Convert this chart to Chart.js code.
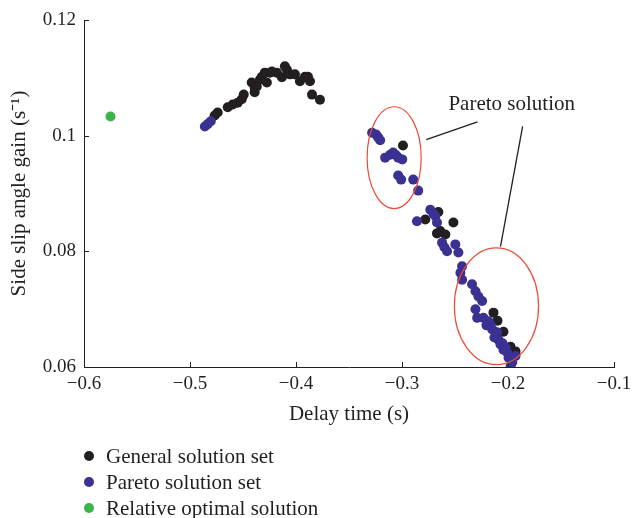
<!DOCTYPE html>
<html>
<head>
<meta charset="utf-8">
<script src="https://cdn.jsdelivr.net/npm/chart.js@4/dist/chart.umd.min.js"></script>
<style>
  html, body { margin: 0; padding: 0; background: #fff; }
  #wrap { position: relative; width: 632px; height: 518px; }
  #legend { position: absolute; left: 80px; top: 443px; font: 21px "Liberation Serif", serif; color: #231f20; }
  #legend div { height: 26px; line-height: 26px; display: flex; align-items: center; }
  #legend span.dot { width: 10px; height: 10px; border-radius: 50%; display: inline-block; margin: 0 12px 0 4px; }
</style>
</head>
<body>
<div id="wrap">
  <canvas id="paretoChart" width="632" height="518"></canvas>
  <div id="legend"></div>
</div>
<script>
// Delay time (s) / side slip angle gain (1/s)
const generalX = [-0.4767, -0.4739, -0.4644, -0.4597, -0.4550, -0.4512, -0.4493, -0.4418, -0.4390, -0.4390,
  -0.4370, -0.4340, -0.4322, -0.4294, -0.4275, -0.4246, -0.4227, -0.4180, -0.4133, -0.4105,
  -0.4086, -0.4058, -0.4010, -0.3963, -0.3916, -0.3887, -0.3868, -0.3849, -0.3774,
  -0.2991, -0.2657, -0.2780, -0.2515, -0.2639, -0.2670, -0.2591,
  -0.2137, -0.2099, -0.2043, -0.1976, -0.1929];
const generalY = [0.1035, 0.1040, 0.1049, 0.1054, 0.1057, 0.1063, 0.1071, 0.1092, 0.1083, 0.1075,
  0.1085, 0.1097, 0.1102, 0.1109, 0.1092, 0.1109, 0.1111, 0.1109, 0.1101, 0.1120,
  0.1114, 0.1106, 0.1106, 0.1094, 0.1102, 0.1102, 0.1094, 0.1071, 0.1062,
  0.0983, 0.0868, 0.0855, 0.0850, 0.0835, 0.0831, 0.0829,
  0.0694, 0.0680, 0.0661, 0.0635, 0.0627];

const paretoX = [-0.4860, -0.4833, -0.4804,
  -0.3282, -0.3244, -0.3225, -0.3206, -0.3159, -0.3112, -0.3083, -0.3055, -0.3036, -0.2998,
  -0.3036, -0.3008, -0.2894, -0.2847,
  -0.2733, -0.2704, -0.2859, -0.2686, -0.2670, -0.2622, -0.2600, -0.2575, -0.2497, -0.2468,
  -0.2433, -0.2449, -0.2433, -0.2339, -0.2307, -0.2279, -0.2244, -0.2307, -0.2291, -0.2232,
  -0.2184, -0.2165, -0.2149, -0.2102, -0.2090, -0.2071, -0.2043, -0.2008, -0.1995, -0.1960,
  -0.1929, -0.1976, -0.2203, -0.2128, -0.2052, -0.2024];
const paretoY = [0.1016, 0.1020, 0.1025,
  0.1005, 0.1002, 0.0997, 0.0992, 0.0962, 0.0967, 0.0971, 0.0966, 0.0962, 0.0959,
  0.0931, 0.0924, 0.0924, 0.0905,
  0.0872, 0.0865, 0.0852, 0.0861, 0.0850, 0.0815, 0.0807, 0.0800, 0.0812, 0.0798,
  0.0774, 0.0763, 0.0751, 0.0743, 0.0731, 0.0722, 0.0714, 0.0700, 0.0685, 0.0685,
  0.0679, 0.0673, 0.0665, 0.0660, 0.0647, 0.0639, 0.0630, 0.0625, 0.0616, 0.0608,
  0.0619, 0.0601, 0.0672, 0.0651, 0.0641, 0.0634];

const optimalX = [-0.575];
const optimalY = [0.1033];

const xTicks = [-0.6, -0.5, -0.4, -0.3, -0.2, -0.1];
const xTickLabels = ['\u22120.6', '\u22120.5', '\u22120.4', '\u22120.3', '\u22120.2', '\u22120.1'];
const yTicks = [0.06, 0.08, 0.1, 0.12];
const yTickLabels = ['0.06', '0.08', '0.1', '0.12'];

const seriesNames = ['General solution set', 'Pareto solution set', 'Relative optimal solution'];

// ellipses around the Pareto groups (centre and radii in data units)
const ellipses = [
  { cx: -0.3074, cy: 0.0962, rx: 0.0255, ry: 0.0088 },
  { cx: -0.2109, cy: 0.0705, rx: 0.0397, ry: 0.0101 }
];
const callout = { text: 'Pareto solution', x: -0.1965, y: 0.1045 };
const leaders = [
  [[-0.2771, 0.0993], [-0.2288, 0.1024]],
  [[-0.1862, 0.1016], [-0.2071, 0.0808]]
];

const ink = '#231f20';
const serif = '"Liberation Serif", "Times New Roman", serif';

function toPoints(xs, ys) {
  return xs.map((x, i) => ({ x: x, y: ys[i] }));
}

// small tick marks pointing into the plot
const innerTicks = {
  id: 'innerTicks',
  afterDatasetsDraw(chart) {
    const { ctx, chartArea: a, scales } = chart;
    ctx.save();
    ctx.strokeStyle = ink;
    ctx.lineWidth = 1;
    ctx.beginPath();
    xTicks.forEach(v => {
      const px = Math.round(scales.x.getPixelForValue(v)) + 0.5;
      ctx.moveTo(px, a.bottom);
      ctx.lineTo(px, a.bottom - 5);
    });
    yTicks.forEach(v => {
      const py = Math.round(scales.y.getPixelForValue(v)) + 0.5;
      ctx.moveTo(a.left, py);
      ctx.lineTo(a.left + 5, py);
    });
    ctx.stroke();
    ctx.restore();
  }
};

// red ellipses, leader lines and the callout text
const paretoNotes = {
  id: 'paretoNotes',
  afterDatasetsDraw(chart) {
    const { ctx, scales } = chart;
    const sx = scales.x, sy = scales.y;
    ctx.save();
    ctx.strokeStyle = '#ee4a36';
    ctx.lineWidth = 1.2;
    ellipses.forEach(e => {
      const cx = sx.getPixelForValue(e.cx);
      const cy = sy.getPixelForValue(e.cy);
      const rx = Math.abs(sx.getPixelForValue(e.cx + e.rx) - cx);
      const ry = Math.abs(sy.getPixelForValue(e.cy + e.ry) - cy);
      ctx.beginPath();
      ctx.ellipse(cx, cy, rx, ry, 0, 0, Math.PI * 2);
      ctx.stroke();
    });
    ctx.strokeStyle = ink;
    ctx.lineWidth = 1.3;
    leaders.forEach(([p, q]) => {
      ctx.beginPath();
      ctx.moveTo(sx.getPixelForValue(p[0]), sy.getPixelForValue(p[1]));
      ctx.lineTo(sx.getPixelForValue(q[0]), sy.getPixelForValue(q[1]));
      ctx.stroke();
    });
    ctx.fillStyle = ink;
    ctx.font = '21px ' + serif;
    ctx.textAlign = 'center';
    ctx.textBaseline = 'alphabetic';
    ctx.fillText(callout.text, sx.getPixelForValue(callout.x), sy.getPixelForValue(callout.y));
    ctx.restore();
  }
};

const chart = new Chart(document.getElementById('paretoChart'), {
  type: 'scatter',
  data: {
    datasets: [
      {
        label: seriesNames[0],
        data: toPoints(generalX, generalY),
        backgroundColor: ink,
        borderColor: ink,
        pointRadius: 5,
        borderWidth: 0,
        order: 3
      },
      {
        label: seriesNames[1],
        data: toPoints(paretoX, paretoY),
        backgroundColor: '#3a3192',
        borderColor: '#3a3192',
        pointRadius: 5,
        borderWidth: 0,
        order: 2
      },
      {
        label: seriesNames[2],
        data: toPoints(optimalX, optimalY),
        backgroundColor: '#3bb54a',
        borderColor: '#3bb54a',
        pointRadius: 5,
        borderWidth: 0,
        order: 1
      }
    ]
  },
  options: {
    responsive: false,
    animation: false,
    layout: { padding: { left: 0, top: 20, right: 18, bottom: 91 } },
    plugins: {
      legend: { display: false },
      tooltip: { enabled: false }
    },
    scales: {
      x: {
        type: 'linear',
        min: -0.6,
        max: -0.1,
        afterBuildTicks: s => { s.ticks = xTicks.map(v => ({ value: v })); },
        afterFit: s => { s.height = 60; s.paddingLeft = 0; s.paddingRight = 0; },
        grid: { display: true, drawOnChartArea: false, drawTicks: false },
        border: { display: true, color: ink, width: 1 },
        ticks: {
          padding: 6,
          color: ink,
          font: { family: serif, size: 19 },
          maxRotation: 0,
          callback: (v, i) => xTickLabels[i]
        },
        title: {
          display: true,
          text: 'Delay time (s)',
          color: ink,
          font: { family: serif, size: 21 },
          padding: { top: 5, bottom: 0 }
        }
      },
      y: {
        type: 'linear',
        min: 0.06,
        max: 0.12,
        afterBuildTicks: s => { s.ticks = yTicks.map(v => ({ value: v })); },
        afterFit: s => { s.width = 84; s.paddingTop = 0; s.paddingBottom = 0; },
        grid: { display: true, drawOnChartArea: false, drawTicks: false },
        border: { display: true, color: ink, width: 1 },
        ticks: {
          padding: 8,
          color: ink,
          font: { family: serif, size: 19 },
          callback: (v, i) => yTickLabels[i]
        },
        title: {
          display: true,
          text: 'Side slip angle gain (s\u207B\u00B9)',
          color: ink,
          font: { family: serif, size: 21 },
          padding: { top: 7, bottom: 0 }
        }
      }
    }
  },
  plugins: [innerTicks, paretoNotes]
});

// legend listed under the chart, one entry per row
const legend = document.getElementById('legend');
chart.data.datasets.forEach(ds => {
  const row = document.createElement('div');
  const dot = document.createElement('span');
  dot.className = 'dot';
  dot.style.background = ds.backgroundColor;
  row.appendChild(dot);
  row.appendChild(document.createTextNode(ds.label));
  legend.appendChild(row);
});
</script>
</body>
</html>
